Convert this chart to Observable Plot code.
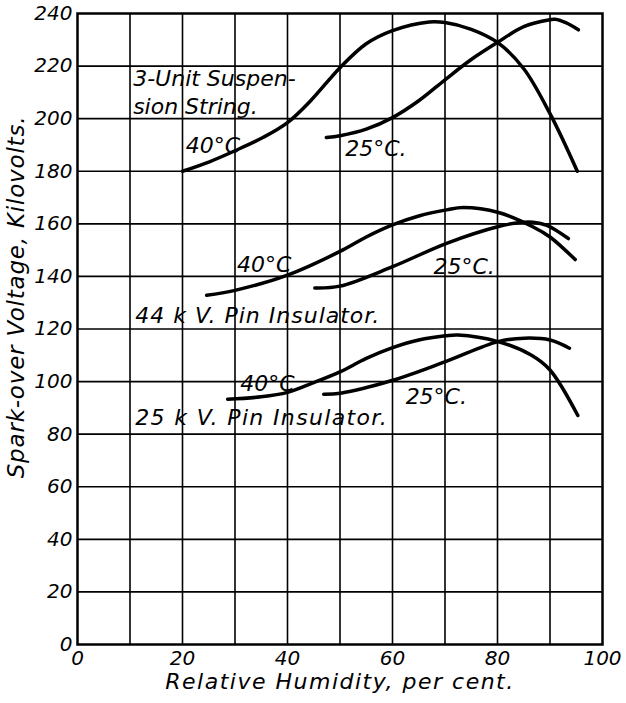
<!DOCTYPE html>
<html>
<head>
<meta charset="utf-8">
<script src="https://cdn.jsdelivr.net/npm/d3@7"></script>
<script src="https://cdn.jsdelivr.net/npm/@observablehq/plot@0.6"></script>
<style>
  html, body { margin: 0; padding: 0; background: #fff; }
</style>
</head>
<body>
<div id="chart"></div>
<script>
// Humidity (x, %) and spark-over voltage (y, kV)
const susp40X = [20, 25, 30, 35.4, 40, 44.4, 50, 55, 60, 67, 70, 75, 80, 85, 90, 95.2];
const susp40Y = [180, 183.5, 187.8, 192.9, 198.5, 206.8, 219.4, 228.5, 233.5, 236.8, 236.6, 234, 229, 219, 201.9, 180];
const susp25X = [47.4, 50, 55, 60, 65, 70, 75, 80, 85, 90, 91, 93, 95.4];
const susp25Y = [192.8, 193.5, 196, 200.4, 206.8, 214.8, 222.5, 229, 235, 237.6, 237.8, 236.5, 233.8];
const pin44_40X = [24.6, 30, 40, 50, 55, 60, 65, 70.3, 73.5, 80.2, 86.8, 90, 94.8];
const pin44_40Y = [132.8, 134.7, 140.5, 149.5, 155, 159.6, 163, 165.3, 166.2, 164.3, 158.8, 155, 146.4];
const pin44_25X = [45.2, 50, 60, 70.3, 80.2, 84.3, 86.8, 89.4, 93.5];
const pin44_25Y = [135.6, 136.3, 143.7, 152.6, 159, 160.5, 160.6, 159.4, 154.4];
const pin25_40X = [28.6, 35, 40, 44.7, 50.1, 55, 59.9, 65, 70.1, 72.5, 80.1, 86.4, 90, 95.3];
const pin25_40Y = [93.3, 94.2, 95.9, 99.4, 103.8, 108.8, 112.8, 115.8, 117.4, 117.7, 115.2, 110.1, 104.4, 87.1];
const pin25_25X = [46.9, 50.1, 59.9, 70.1, 80.1, 85.1, 90, 93.7];
const pin25_25Y = [95.2, 95.6, 100.4, 107.6, 115.2, 116.5, 115.8, 112.7];

const seriesNames = ["susp40", "susp25", "pin44_40", "pin44_25", "pin25_40", "pin25_25"];
const seriesX = [susp40X, susp25X, pin44_40X, pin44_25X, pin25_40X, pin25_25X];
const seriesY = [susp40Y, susp25Y, pin44_40Y, pin44_25Y, pin25_40Y, pin25_25Y];

// Annotation labels (anchored at left edge, in data coordinates)
const labelText = ["3-Unit Suspen-", "sion String.", "40°C", "25°C.", "40°C", "25°C.", "40°C", "25°C."];
const labelX = [10.6, 10.6, 20.6, 51, 30.4, 67.8, 31, 62.5];
const labelY = [215.2, 204.6, 189.7, 188.6, 144.5, 143.7, 99.2, 94];
const pinText = ["44 k V. Pin Insulator.", "25 k V. Pin Insulator."];
const pinX = [11, 11];
const pinY = [125, 86];

const xTicks = [0, 20, 40, 60, 80, 100];
const yTicks = [0, 20, 40, 60, 80, 100, 120, 140, 160, 180, 200, 220, 240];
const xGrid = [10, 20, 30, 40, 50, 60, 70, 80, 90];
const yGrid = [20, 40, 60, 80, 100, 120, 140, 160, 180, 200, 220];
const xTitle = "Relative Humidity, per cent.";
const yTitle = "Spark-over Voltage, Kilovolts.";

const lineData = [];
seriesNames.forEach((n, i) => {
  seriesX[i].forEach((x, j) => lineData.push({series: n, x, y: seriesY[i][j]}));
});
const labels = labelText.map((t, i) => ({t, x: labelX[i], y: labelY[i]}));
const pinLabels = pinText.map((t, i) => ({t, x: pinX[i], y: pinY[i]}));

const chart = Plot.plot({
  width: 626,
  height: 703,
  marginLeft: 77,
  marginRight: 24,
  marginTop: 13,
  marginBottom: 59,
  style: {fontFamily: "DejaVu Sans", fontStyle: "italic", background: "#fff", color: "#000"},
  x: {domain: [0, 100]},
  y: {domain: [0, 240]},
  marks: [
    Plot.gridX(xGrid, {stroke: "#000", strokeOpacity: 1, strokeWidth: 1.6}),
    Plot.gridY(yGrid, {stroke: "#000", strokeOpacity: 1, strokeWidth: 1.6}),
    Plot.frame({stroke: "#000", strokeWidth: 2.5}),
    Plot.axisX(xTicks, {tickSize: 0, tickPadding: 6, fontSize: 20, label: null}),
    Plot.axisY(yTicks, {tickSize: 0, tickPadding: 5, fontSize: 20, label: null}),
    Plot.line(lineData, {x: "x", y: "y", z: "series", stroke: "#000", strokeWidth: 3.5, curve: "catmull-rom"}),
    Plot.text(labels, {x: "x", y: "y", text: "t", textAnchor: "start", fontSize: 22, fill: "#000"}),
    Plot.text(pinLabels, {x: "x", y: "y", text: "t", textAnchor: "start", fontSize: 22, fill: "#000"}),
    Plot.text([xTitle], {frameAnchor: "bottom", dy: 44, fontSize: 22, fill: "#000"}),
    Plot.text([yTitle], {frameAnchor: "left", textAnchor: "middle", rotate: -90, dx: -61, dy: -32, fontSize: 23, fill: "#000"})
  ]
});
const spacing = new Map([[yTitle, 0.8], [xTitle, 1.5], [pinText[0], 1.0], [pinText[1], 1.35]]);
d3.select(chart).selectAll("text").each(function() {
  const s = spacing.get(this.textContent);
  if (s != null) {
    this.setAttribute("letter-spacing", s);
    this.style.letterSpacing = s + "px";
  }
});
document.getElementById("chart").appendChild(chart);
</script>
</body>
</html>
